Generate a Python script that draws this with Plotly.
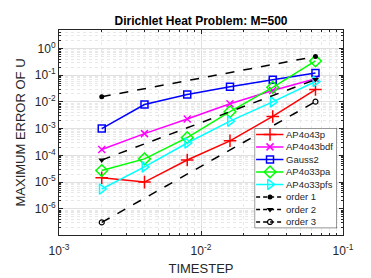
import plotly.graph_objects as go

timestep = [0.002, 0.004, 0.008, 0.016, 0.032, 0.064]
ap4o43p = [1.45e-5, 1.0e-5, 6.7e-5, 3.5e-4, 2.85e-3, 0.029]
ap4o43bdf = [1.65e-4, 6.5e-4, 2.3e-3, 8.5e-3, 0.0266, 0.073]
gauss2 = [1.0e-3, 8.0e-3, 0.019, 0.037, 0.067, 0.12]
ap4o33pa = [2.7e-5, 7.4e-5, 4.6e-4, 4.3e-3, 0.035, 0.34]
ap4o33pfs = [5.5e-6, 3.7e-5, 2.9e-4, 1.9e-3, 0.010, 0.058]
order_x = [0.002, 0.064]
order1 = [0.0156, 0.5]
order2 = [6.7e-5, 0.069]
order3 = [3.1e-7, 0.0102]

series_names = ["AP4o43p", "AP4o43bdf", "Gauss2", "AP4o33pa", "AP4o33pfs",
                "order 1", "order 2", "order 3"]

x_ticks = [1e-3, 1e-2, 1e-1]
x_ticklabels = ["10<sup>-3</sup>", "10<sup>-2</sup>", "10<sup>-1</sup>"]
y_ticks = [1e-6, 1e-5, 1e-4, 1e-3, 1e-2, 1e-1, 1e0]
y_ticklabels = ["10<sup>-6</sup>", "10<sup>-5</sup>", "10<sup>-4</sup>", "10<sup>-3</sup>",
                "10<sup>-2</sup>", "10<sup>-1</sup>", "10<sup>0</sup>"]

styles = [
    dict(color="#ff0000", symbol="cross-thin", size=9, dash="solid", mlw=1.5),
    dict(color="#ff00ff", symbol="x-thin", size=7, dash="solid", mlw=1.5),
    dict(color="#0000ff", symbol="square-open", size=7, dash="solid", mlw=1.5),
    dict(color="#00ff00", symbol="diamond-open", size=9, dash="solid", mlw=1.5),
    dict(color="#00ffff", symbol="triangle-right-open", size=9, dash="solid", mlw=1.5),
    dict(color="#000000", symbol="circle", size=5, dash="dash", mlw=0),
    dict(color="#000000", symbol="triangle-down", size=6, dash="dash", mlw=0),
    dict(color="#000000", symbol="circle-open", size=5, dash="dash", mlw=1.2),
]
data = [(timestep, ap4o43p), (timestep, ap4o43bdf), (timestep, gauss2),
        (timestep, ap4o33pa), (timestep, ap4o33pfs),
        (order_x, order1), (order_x, order2), (order_x, order3)]

fig = go.Figure()

for (x, y), name, st in zip(data, series_names, styles):
    fig.add_trace(go.Scatter(
        x=x, y=y, name=name, mode="lines+markers", showlegend=False,
        line=dict(color=st["color"], width=1.5, dash=st["dash"]),
        marker=dict(symbol=st["symbol"], size=st["size"], color=st["color"],
                    line=dict(color=st["color"], width=st["mlw"])),
    ))

# Custom compact legend (MATLAB style), drawn on a hidden helper axis in pixel units
L_LEFT, L_RIGHT, L_TOP, L_BOTTOM = 246, 329, 123, 226
PLOT_L, PLOT_R, PLOT_T, PLOT_B = 49, 335, 22, 233
pw, ph = PLOT_R - PLOT_L, PLOT_B - PLOT_T
dom_x = [(L_LEFT - PLOT_L) / pw, (L_RIGHT - PLOT_L) / pw]
dom_y = [(PLOT_B - L_BOTTOM) / ph, (PLOT_B - L_TOP) / ph]
row_h = (L_BOTTOM - L_TOP) / len(series_names)

# legend background box (drawn on the overlay subplot so it covers the data lines)
fig.add_trace(go.Scatter(
    x=[L_LEFT, L_RIGHT, L_RIGHT, L_LEFT, L_LEFT],
    y=[L_TOP, L_TOP, L_BOTTOM, L_BOTTOM, L_TOP],
    xaxis="x2", yaxis="y2", mode="lines", fill="toself", fillcolor="white",
    line=dict(color="#262626", width=1), showlegend=False, hoverinfo="skip",
))
for i, (name, st) in enumerate(zip(series_names, styles)):
    yc = L_TOP + row_h * (i + 0.5)
    fig.add_trace(go.Scatter(
        x=[L_LEFT + 1.5, L_LEFT + 15.5, L_LEFT + 29], y=[yc, yc, yc],
        xaxis="x2", yaxis="y2", mode="lines", showlegend=False, hoverinfo="skip",
        line=dict(color=st["color"], width=1.5,
                  dash="solid" if st["dash"] == "solid" else "4px,3px"),
    ))
    fig.add_trace(go.Scatter(
        x=[L_LEFT + 15.5], y=[yc], xaxis="x2", yaxis="y2", mode="markers",
        showlegend=False, hoverinfo="skip",
        marker=dict(symbol=st["symbol"], size=st["size"], color=st["color"],
                    line=dict(color=st["color"], width=st["mlw"])),
    ))
    fig.add_annotation(x=L_LEFT + 30, y=yc, xref="x2", yref="y2", text=name,
                       showarrow=False, xanchor="left", yanchor="middle",
                       font=dict(size=9.5, color="#262626"))

def minor_vals(lo, hi):
    v = []
    for e in range(lo, hi + 1):
        for m in range(2, 10):
            v.append(m * 10.0 ** e)
    return v

axis_common = dict(
    type="log", showline=True, linecolor="#262626", linewidth=1, mirror="allticks",
    ticks="inside", ticklen=4, tickcolor="#262626",
    showgrid=True, gridcolor="#e0e0e0", gridwidth=1, zeroline=False,
    tickfont=dict(size=12, color="#262626"),
)

fig.update_layout(
    xaxis=dict(
        **axis_common,
        range=[-3, -1],
        tickvals=x_ticks, ticktext=x_ticklabels,
        ticklabelstandoff=5,
        title=dict(text="TIMESTEP", font=dict(size=13, color="#262626"), standoff=6),
        minor=dict(tickvals=minor_vals(-3, -2), showgrid=True, gridcolor="#e8e8e8",
                   griddash="dot", ticks="inside", ticklen=2, tickcolor="#262626"),
    ),
    yaxis=dict(
        **axis_common,
        range=[-6.98, 0.69],
        tickvals=y_ticks, ticktext=y_ticklabels,
        title=dict(text="MAXIMUM ERROR OF U", font=dict(size=13, color="#262626"), standoff=6),
        minor=dict(tickvals=minor_vals(-7, 0), showgrid=True, gridcolor="#e8e8e8",
                   griddash="dot", ticks="inside", ticklen=2, tickcolor="#262626"),
    ),
    xaxis2=dict(domain=dom_x, range=[L_LEFT, L_RIGHT], visible=False,
                fixedrange=True, anchor="y2"),
    yaxis2=dict(domain=dom_y, range=[L_BOTTOM, L_TOP], visible=False,
                fixedrange=True, anchor="x2"),
    width=371, height=278,
    margin=dict(l=49, r=36, t=22, b=45),
    paper_bgcolor="white", plot_bgcolor="white",
    font=dict(family="Liberation Sans, Arial, sans-serif", color="#262626"),
    title=dict(text="<b>Dirichlet Heat Problem: M=500</b>", x=0.5, xanchor="center",
               xref="paper", y=0.955, yanchor="middle", font=dict(size=12, color="black")),
    showlegend=False,
)

fig.write_html("out.html")
